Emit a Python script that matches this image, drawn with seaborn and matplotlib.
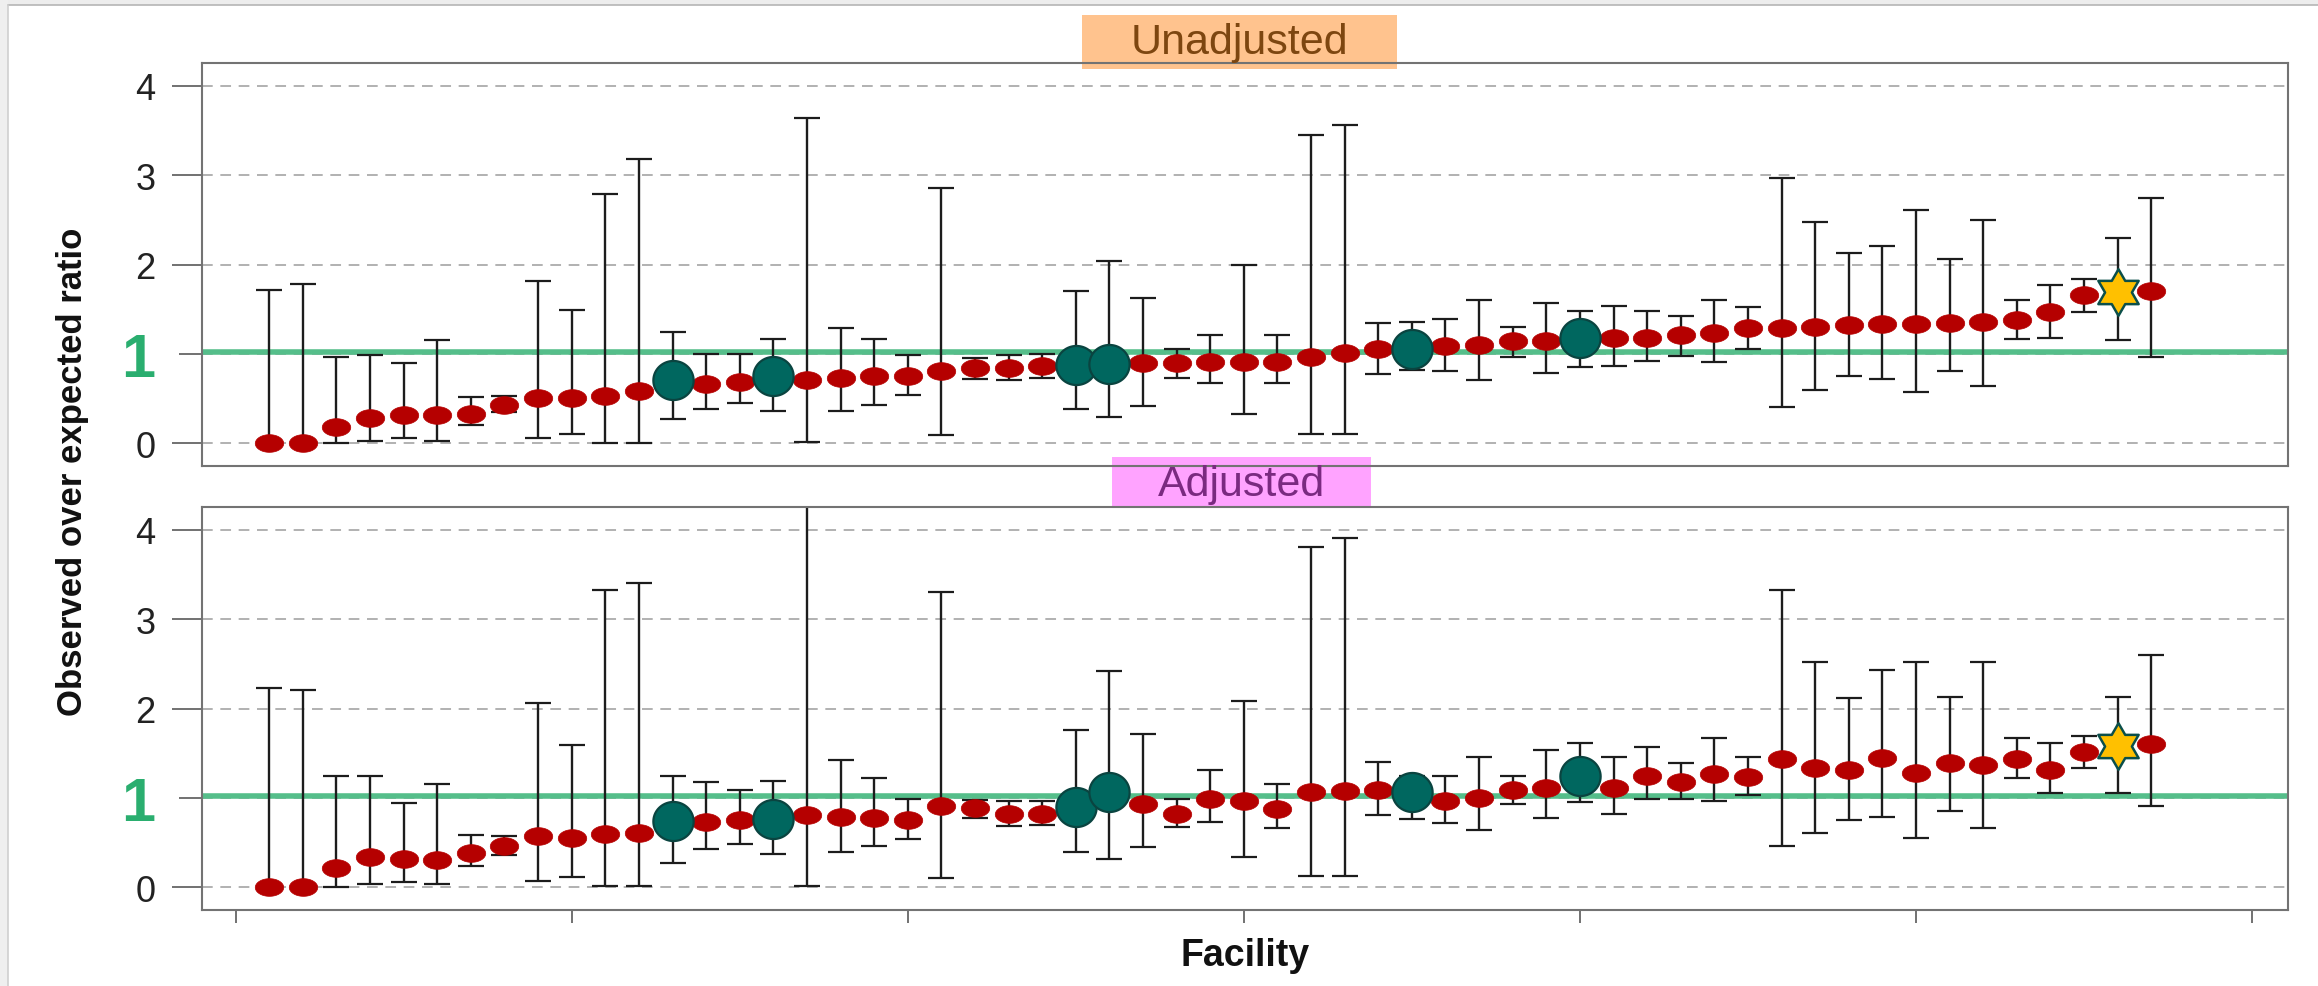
import numpy as np
import pandas as pd
import matplotlib
matplotlib.use("Agg")
import matplotlib.pyplot as plt
import seaborn as sns
from matplotlib.path import Path
from matplotlib.patches import Rectangle
from matplotlib import font_manager

# ---------------- data ----------------
facility = list(range(1, 58))
highlight_ids = [13, 16, 25, 26, 35, 40]
star_id = 56

unadj_ratio = [0.00, 0.00, 0.18, 0.28, 0.32, 0.32, 0.33, 0.43, 0.51, 0.51, 0.53, 0.58, 0.71, 0.66, 0.69,
               0.75, 0.71, 0.73, 0.75, 0.75, 0.81, 0.84, 0.84, 0.87, 0.88, 0.89, 0.90, 0.90, 0.91, 0.91,
               0.91, 0.96, 1.01, 1.05, 1.05, 1.09, 1.10, 1.14, 1.14, 1.18, 1.18, 1.18, 1.21, 1.23, 1.29,
               1.29, 1.30, 1.32, 1.33, 1.33, 1.35, 1.36, 1.38, 1.47, 1.66, 1.69, 1.70]
unadj_lo = [0.00, 0.00, 0.00, 0.03, 0.06, 0.03, 0.21, 0.35, 0.06, 0.10, 0.00, 0.00, 0.27, 0.38, 0.45,
            0.36, 0.01, 0.36, 0.43, 0.54, 0.09, 0.72, 0.71, 0.73, 0.38, 0.29, 0.42, 0.73, 0.68, 0.33,
            0.68, 0.10, 0.10, 0.78, 0.82, 0.81, 0.71, 0.96, 0.79, 0.85, 0.87, 0.92, 0.98, 0.91, 1.05,
            0.41, 0.60, 0.75, 0.72, 0.57, 0.81, 0.64, 1.17, 1.18, 1.47, 1.15, 0.97]
unadj_hi = [1.72, 1.78, 0.97, 0.99, 0.90, 1.15, 0.52, 0.53, 1.82, 1.49, 2.79, 3.18, 1.24, 1.00, 1.00,
            1.17, 3.64, 1.29, 1.17, 0.99, 2.86, 0.95, 0.99, 1.00, 1.70, 2.04, 1.63, 1.06, 1.21, 1.99,
            1.21, 3.45, 3.56, 1.35, 1.36, 1.39, 1.60, 1.30, 1.57, 1.48, 1.54, 1.48, 1.42, 1.60, 1.52,
            2.97, 2.48, 2.13, 2.21, 2.61, 2.06, 2.50, 1.60, 1.77, 1.84, 2.30, 2.74]

adj_ratio = [0.00, 0.00, 0.22, 0.34, 0.32, 0.31, 0.38, 0.46, 0.57, 0.55, 0.60, 0.61, 0.74, 0.73, 0.75,
             0.76, 0.81, 0.79, 0.78, 0.75, 0.91, 0.89, 0.82, 0.82, 0.90, 1.07, 0.93, 0.82, 0.99, 0.96,
             0.88, 1.07, 1.08, 1.09, 1.07, 0.96, 1.00, 1.09, 1.11, 1.24, 1.11, 1.25, 1.18, 1.27, 1.23,
             1.43, 1.33, 1.31, 1.45, 1.28, 1.39, 1.37, 1.43, 1.31, 1.51, 1.58, 1.60]
adj_lo = [0.00, 0.00, 0.00, 0.04, 0.06, 0.04, 0.24, 0.36, 0.07, 0.12, 0.01, 0.01, 0.27, 0.43, 0.48,
          0.37, 0.01, 0.39, 0.46, 0.54, 0.10, 0.78, 0.69, 0.70, 0.39, 0.32, 0.45, 0.67, 0.73, 0.34,
          0.66, 0.13, 0.13, 0.81, 0.76, 0.72, 0.64, 0.93, 0.78, 0.95, 0.82, 0.99, 0.99, 0.96, 1.03,
          0.46, 0.61, 0.75, 0.79, 0.55, 0.85, 0.66, 1.22, 1.06, 1.34, 1.06, 0.91]
adj_hi = [2.23, 2.21, 1.24, 1.24, 0.94, 1.15, 0.59, 0.57, 2.06, 1.59, 3.33, 3.40, 1.25, 1.18, 1.09,
          1.19, 4.60, 1.42, 1.22, 0.99, 3.30, 0.98, 0.96, 0.97, 1.76, 2.42, 1.71, 0.99, 1.31, 2.08,
          1.16, 3.81, 3.91, 1.40, 1.24, 1.24, 1.46, 1.25, 1.54, 1.61, 1.46, 1.57, 1.39, 1.67, 1.46,
          3.33, 2.52, 2.12, 2.43, 2.52, 2.13, 2.52, 1.67, 1.61, 1.69, 2.13, 2.60]

y_ticks = [0, 1, 2, 3, 4]
y_tick_labels = ["0", "1", "2", "3", "4"]
x_ticks = [0, 10, 20, 30, 40, 50, 60]
reference_ratio = 1.02
panel_titles = ["Unadjusted", "Adjusted"]

# ---------------- style ----------------
sns.set_theme(style="white")
plt.rcParams["font.family"] = ["Liberation Sans", "DejaVu Sans"]
names = {f.name for f in font_manager.fontManager.ttflist}
ylab_family = ["Liberation Sans Narrow", "Liberation Sans"] if "Liberation Sans Narrow" in names \
    else ["Liberation Sans", "DejaVu Sans"]
ylab_size = 30 if "Liberation Sans Narrow" in names else 25

W, H = 2318, 987
fig = plt.figure(figsize=(W / 100, H / 100), dpi=100)
fig.patch.set_facecolor("white")


def ellipse(aspect):
    t = np.linspace(0, 2 * np.pi, 73)
    v = np.column_stack([np.cos(t), aspect * np.sin(t)])
    return Path(v, closed=True)


def hexagram():
    k = np.arange(12)
    ang = np.pi / 2 + k * np.pi / 6
    r = np.where(k % 2 == 0, 1.0, 1 / np.sqrt(3))
    v = np.column_stack([r * np.cos(ang), r * np.sin(ang)])
    v = np.vstack([v, v[:1]])
    return Path(v, closed=True)


red_marker = ellipse(0.62)
teal_marker = ellipse(0.97)
star_marker = hexagram()


def px(x0, y0, x1, y1):
    # pixel box (top-left origin) -> figure fraction rect
    return [x0 / W, 1 - y1 / H, (x1 - x0) / W, (y1 - y0) / H]


def make_df(ratio, lo, hi):
    df = pd.DataFrame({"facility": facility, "ratio": ratio, "lo": lo, "hi": hi})
    df["group"] = "other"
    df.loc[df["facility"].isin(highlight_ids), "group"] = "highlight"
    df.loc[df["facility"] == star_id, "group"] = "star"
    return df


panels = [make_df(unadj_ratio, unadj_lo, unadj_hi), make_df(adj_ratio, adj_lo, adj_hi)]
rects = [px(202, 64, 2288, 467), px(202, 508, 2288, 911)]

axes = []
for i, (df, rect) in enumerate(zip(panels, rects)):
    ax = fig.add_axes(rect)
    ax.patch.set_alpha(0)
    axes.append(ax)
    ax.set_xlim(-1.0, 61.07)
    ax.set_ylim(-0.254, 4.254)
    ax.set_axisbelow(True)
    ax.yaxis.grid(True, linestyle=(0, (7, 5)), color="#9c9c9c", lw=1.1)
    ax.xaxis.grid(False)
    ax.axhline(reference_ratio, color="#55BE8A", lw=4.0, zorder=1.5)

    ax.errorbar(df["facility"], df["ratio"],
                yerr=[df["ratio"] - df["lo"], df["hi"] - df["ratio"]],
                fmt="none", ecolor="#1c1c1c", elinewidth=1.7, capsize=9.4, capthick=1.6, zorder=2)

    sns.scatterplot(data=df[df["group"] == "other"], x="facility", y="ratio", ax=ax,
                    marker=red_marker, s=20.5 ** 2, color="#B50000", edgecolor="#B50000",
                    linewidth=0.5, zorder=3, legend=False)
    sns.scatterplot(data=df[df["group"] == "highlight"], x="facility", y="ratio", ax=ax,
                    marker=teal_marker, s=29.0 ** 2, color="#00675F", edgecolor="#0A4440",
                    linewidth=1.6, zorder=3, legend=False)
    sns.scatterplot(data=df[df["group"] == "star"], x="facility", y="ratio", ax=ax,
                    marker=star_marker, s=33.5 ** 2, color="#FFC000", edgecolor="#0B4F4A",
                    linewidth=1.8, zorder=3.5, legend=False)

    for sp in ax.spines.values():
        sp.set_visible(True)
        sp.set_color("#737373")
        sp.set_linewidth(1.5)

    ax.set_yticks(y_ticks)
    ax.set_yticklabels(y_tick_labels)
    ax.tick_params(axis="y", which="major", left=True, direction="out", length=21.6, width=1.3,
                   color="#666666", pad=12, labelsize=26, labelcolor="#222222")
    for lab in ax.get_yticklabels():
        if lab.get_text() == "1":
            lab.set_color("#2AAE6F")
            lab.set_fontsize(44)
            lab.set_fontweight("bold")
    ax.yaxis.get_major_ticks()[1].tick1line.set_markersize(16.5)

    ax.set_xlabel("")
    ax.set_ylabel("")
    if i == 0:
        ax.set_xticks([])
    else:
        ax.set_xticks(x_ticks)
        ax.set_xticklabels([""] * len(x_ticks))
        ax.tick_params(axis="x", which="major", bottom=True, direction="out", length=9.4, width=1.3,
                       color="#666666")

# highlighted panel titles
title_boxes = [(1082, 16, 1397, 70, "#FFBE84", "#7D4610", 43),
               (1112, 458, 1371, 508, "#FF9BFF", "#7A2A80", 485)]
for (x0, y0, x1, y1, fc, tc, yc), title in zip(title_boxes, panel_titles):
    fig.patches.append(Rectangle((x0 / W, 1 - y1 / H), (x1 - x0) / W, (y1 - y0) / H,
                                 transform=fig.transFigure, facecolor=fc, edgecolor="none",
                                 alpha=0.92, zorder=-1))
    fig.text((x0 + x1) / 2 / W, 1 - yc / H, title, ha="center", va="center",
             fontsize=31, color=tc, zorder=5)

fig.text(1245 / W, 1 - 956 / H, "Facility", ha="center", va="center",
         fontsize=27, fontweight="bold", color="#111111")
fig.text(73 / W, 1 - 472 / H, "Observed over expected ratio", rotation=90, ha="center",
         va="center", fontsize=ylab_size, fontweight="bold", family=ylab_family, color="#111111")

# screenshot frame
fig.patches.append(Rectangle((0, 1 - 6 / H), 1, 6 / H, transform=fig.transFigure,
                             facecolor="#ededed", edgecolor="none", zorder=-2))
fig.patches.append(Rectangle((0, 0), 8 / W, 1, transform=fig.transFigure,
                             facecolor="#efefef", edgecolor="none", zorder=-2))
fig.lines.append(plt.Line2D([8 / W, 1], [1 - 6 / H, 1 - 6 / H], transform=fig.transFigure,
                            color="#b5b5b5", lw=1.2))
fig.lines.append(plt.Line2D([8 / W, 8 / W], [0, 1 - 6 / H], transform=fig.transFigure,
                            color="#cfcfcf", lw=1.2))

fig.savefig("out.png", dpi=100)
